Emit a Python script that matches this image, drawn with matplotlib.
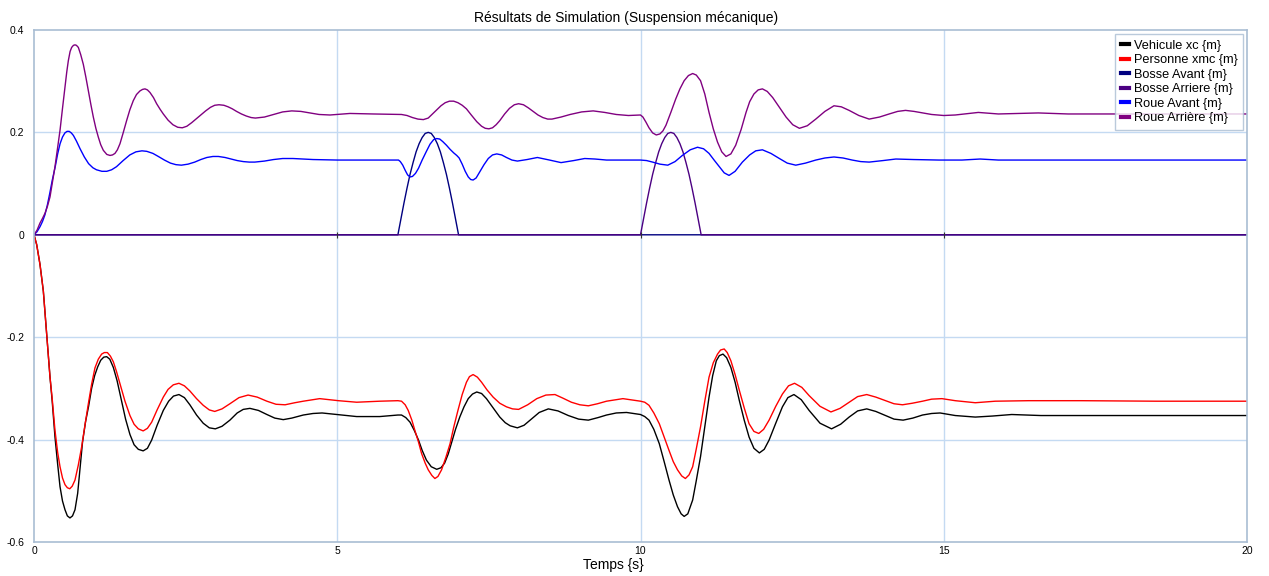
import matplotlib
matplotlib.use("Agg")
import matplotlib.pyplot as plt

plt.rcParams['font.family'] = ['Liberation Sans', 'DejaVu Sans']

# ---------------- data ----------------
t_vehicule = [0.0, 0.044, 0.099, 0.154, 0.209, 0.264, 0.30, 0.346, 0.39, 0.429, 0.47, 0.511, 0.55, 0.593,
              0.635, 0.676, 0.72, 0.76, 0.80, 0.85, 0.90, 0.95, 1.00, 1.05, 1.10, 1.15, 1.198, 1.25,
              1.308, 1.37, 1.445, 1.51, 1.582, 1.65, 1.72, 1.80, 1.87, 1.94, 2.03, 2.132, 2.22, 2.30,
              2.39, 2.48, 2.57, 2.68, 2.79, 2.89, 2.99, 3.10, 3.23, 3.35, 3.45, 3.56, 3.70, 3.84,
              3.97, 4.11, 4.25, 4.44, 4.60, 4.75, 5.0, 5.32, 5.70, 6.0, 6.06, 6.13, 6.20, 6.27, 6.34,
              6.40, 6.47, 6.55, 6.64, 6.71, 6.77, 6.83, 6.88, 6.95, 7.02, 7.09, 7.16, 7.23, 7.30,
              7.38, 7.46, 7.57, 7.68, 7.77, 7.85, 7.97, 8.08, 8.18, 8.33, 8.48, 8.64, 8.81, 8.98,
              9.14, 9.30, 9.44, 9.6, 9.77, 10.0, 10.07, 10.14, 10.22, 10.31, 10.39, 10.47, 10.54,
              10.61, 10.67, 10.72, 10.78, 10.86, 10.92, 10.99, 11.06, 11.13, 11.19, 11.25, 11.30,
              11.36, 11.42, 11.49, 11.56, 11.63, 11.71, 11.79, 11.87, 11.96, 12.04, 12.12, 12.23,
              12.34, 12.43, 12.53, 12.65, 12.78, 12.96, 13.15, 13.30, 13.44, 13.58, 13.73, 13.88,
              14.04, 14.18, 14.33, 14.49, 14.65, 14.80, 14.94, 15.19, 15.52, 15.8, 16.12, 16.6,
              17.0, 18.0, 20.0]
y_vehicule = [0.0, -0.019, -0.058, -0.110, -0.194, -0.278, -0.325, -0.395, -0.448, -0.492, -0.520, -0.537,
              -0.549, -0.553, -0.549, -0.537, -0.505, -0.455, -0.405, -0.365, -0.335, -0.300, -0.275,
              -0.258, -0.245, -0.239, -0.238, -0.243, -0.259, -0.285, -0.325, -0.360, -0.390, -0.410,
              -0.419, -0.422, -0.417, -0.401, -0.372, -0.343, -0.325, -0.315, -0.312, -0.318, -0.332,
              -0.352, -0.368, -0.377, -0.379, -0.374, -0.362, -0.348, -0.341, -0.339, -0.343, -0.351,
              -0.358, -0.361, -0.358, -0.352, -0.349, -0.348, -0.351, -0.355, -0.355, -0.352, -0.352,
              -0.357, -0.366, -0.382, -0.401, -0.421, -0.440, -0.453, -0.458, -0.455, -0.446, -0.428,
              -0.408, -0.380, -0.356, -0.336, -0.320, -0.311, -0.307, -0.310, -0.320, -0.338, -0.356,
              -0.367, -0.373, -0.377, -0.372, -0.362, -0.347, -0.340, -0.344, -0.353, -0.360, -0.362,
              -0.357, -0.352, -0.348, -0.347, -0.351, -0.355, -0.362, -0.380, -0.408, -0.443, -0.479,
              -0.508, -0.531, -0.545, -0.550, -0.545, -0.518, -0.480, -0.433, -0.375, -0.317, -0.275,
              -0.246, -0.236, -0.233, -0.240, -0.259, -0.288, -0.324, -0.362, -0.395, -0.417, -0.426,
              -0.419, -0.401, -0.368, -0.336, -0.318, -0.312, -0.322, -0.343, -0.368, -0.379, -0.370,
              -0.356, -0.344, -0.340, -0.345, -0.353, -0.360, -0.362, -0.358, -0.352, -0.349, -0.348,
              -0.353, -0.356, -0.354, -0.351, -0.353, -0.353, -0.353, -0.353]

t_personne = [0.0, 0.044, 0.099, 0.154, 0.209, 0.264, 0.30, 0.346, 0.39, 0.429, 0.47, 0.511, 0.55, 0.59,
              0.63, 0.676, 0.73, 0.786, 0.84, 0.896, 0.95, 1.005, 1.06, 1.115, 1.16, 1.21, 1.26, 1.308,
              1.36, 1.418, 1.50, 1.582, 1.65, 1.72, 1.80, 1.87, 1.94, 2.03, 2.132, 2.21, 2.297, 2.39,
              2.48, 2.57, 2.68, 2.79, 2.89, 2.98, 3.10, 3.23, 3.38, 3.53, 3.68, 3.84, 3.99, 4.14,
              4.30, 4.44, 4.71, 5.02, 5.32, 5.70, 6.0, 6.06, 6.12, 6.17, 6.23, 6.28, 6.34, 6.39, 6.45,
              6.50, 6.56, 6.61, 6.66, 6.72, 6.79, 6.86, 6.92, 6.99, 7.06, 7.13, 7.18, 7.24, 7.31,
              7.38, 7.47, 7.57, 7.68, 7.79, 7.89, 7.99, 8.14, 8.29, 8.44, 8.59, 8.72, 8.86, 9.00,
              9.14, 9.29, 9.44, 9.71, 10.0, 10.07, 10.14, 10.22, 10.31, 10.39, 10.47, 10.54, 10.61,
              10.68, 10.74, 10.80, 10.86, 10.92, 10.99, 11.06, 11.13, 11.20, 11.27, 11.32, 11.38,
              11.43, 11.49, 11.56, 11.63, 11.71, 11.79, 11.87, 11.95, 12.03, 12.12, 12.23, 12.34,
              12.44, 12.54, 12.66, 12.78, 12.96, 13.14, 13.29, 13.44, 13.58, 13.73, 13.88, 14.04,
              14.18, 14.32, 14.48, 14.65, 14.80, 14.97, 15.19, 15.52, 15.85, 16.40, 17.27, 18.5, 20.0]
y_personne = [0.0, -0.019, -0.058, -0.110, -0.194, -0.278, -0.320, -0.382, -0.425, -0.453, -0.475, -0.488,
              -0.494, -0.496, -0.491, -0.479, -0.450, -0.414, -0.372, -0.330, -0.292, -0.260, -0.243,
              -0.233, -0.230, -0.230, -0.237, -0.248, -0.267, -0.291, -0.325, -0.353, -0.370, -0.379,
              -0.383, -0.378, -0.366, -0.342, -0.317, -0.302, -0.293, -0.290, -0.295, -0.305, -0.320,
              -0.333, -0.342, -0.345, -0.340, -0.330, -0.318, -0.313, -0.317, -0.325, -0.331, -0.332,
              -0.328, -0.325, -0.320, -0.324, -0.327, -0.325, -0.324, -0.325, -0.332, -0.343, -0.362,
              -0.382, -0.405, -0.427, -0.446, -0.459, -0.470, -0.476, -0.472, -0.459, -0.435, -0.408,
              -0.376, -0.343, -0.312, -0.288, -0.277, -0.273, -0.278, -0.288, -0.303, -0.317, -0.329,
              -0.336, -0.340, -0.341, -0.332, -0.320, -0.313, -0.312, -0.319, -0.327, -0.332, -0.334,
              -0.330, -0.325, -0.320, -0.325, -0.327, -0.333, -0.348, -0.369, -0.395, -0.421, -0.443,
              -0.459, -0.471, -0.476, -0.469, -0.453, -0.418, -0.375, -0.325, -0.278, -0.250, -0.233,
              -0.225, -0.223, -0.230, -0.246, -0.273, -0.304, -0.338, -0.369, -0.384, -0.388, -0.380,
              -0.362, -0.335, -0.311, -0.295, -0.290, -0.298, -0.314, -0.335, -0.346, -0.339, -0.327,
              -0.316, -0.312, -0.317, -0.324, -0.330, -0.332, -0.329, -0.325, -0.321, -0.320, -0.324,
              -0.328, -0.325, -0.324, -0.324, -0.325, -0.325]

t_bosse_avant = [0.0, 6.0, 6.05, 6.1, 6.15, 6.2, 6.25, 6.3, 6.35, 6.4, 6.45, 6.5, 6.55, 6.6, 6.65,
                 6.7, 6.75, 6.8, 6.85, 6.9, 6.95, 7.0, 20.0]
y_bosse_avant = [0.0, 0.0, 0.031, 0.062, 0.091, 0.118, 0.141, 0.162, 0.178, 0.190, 0.198, 0.200, 0.198,
                 0.190, 0.178, 0.162, 0.141, 0.118, 0.091, 0.062, 0.031, 0.0, 0.0]

t_bosse_arriere = [0.0, 10.0, 10.05, 10.1, 10.15, 10.2, 10.25, 10.3, 10.35, 10.4, 10.45, 10.5, 10.55,
                   10.6, 10.65, 10.7, 10.75, 10.8, 10.85, 10.9, 10.95, 11.0, 20.0]
y_bosse_arriere = [0.0, 0.0, 0.031, 0.062, 0.091, 0.118, 0.141, 0.162, 0.178, 0.190, 0.198, 0.200, 0.198,
                   0.190, 0.178, 0.162, 0.141, 0.118, 0.091, 0.062, 0.031, 0.0, 0.0]

t_roue_avant = [0.0, 0.05, 0.10, 0.14, 0.18, 0.22, 0.26, 0.30, 0.35, 0.39, 0.43, 0.47, 0.51, 0.545, 0.58,
                0.615, 0.65, 0.70, 0.76, 0.83, 0.90, 0.97, 1.03, 1.12, 1.20, 1.28, 1.36, 1.47, 1.58,
                1.68, 1.78, 1.86, 1.96, 2.05, 2.15, 2.25, 2.34, 2.43, 2.54, 2.65, 2.75, 2.85, 2.95,
                3.04, 3.15, 3.25, 3.35, 3.45, 3.55, 3.64, 3.80, 3.95, 4.10, 4.27, 4.45, 4.6, 5.0, 5.5,
                6.01, 6.04, 6.08, 6.12, 6.16, 6.20, 6.24, 6.29, 6.34, 6.40, 6.47, 6.53, 6.59, 6.64,
                6.69, 6.74, 6.80, 6.86, 6.92, 6.97, 7.01, 7.06, 7.11, 7.16, 7.20, 7.24, 7.29, 7.35,
                7.42, 7.49, 7.56, 7.63, 7.71, 7.79, 7.88, 7.97, 8.13, 8.30, 8.50, 8.69, 8.90, 9.08,
                9.25, 9.44, 10.0, 10.1, 10.2, 10.32, 10.45, 10.57, 10.69, 10.82, 10.94, 11.04, 11.13,
                11.22, 11.30, 11.38, 11.46, 11.56, 11.68, 11.80, 11.90, 12.01, 12.15, 12.29, 12.42,
                12.56, 12.72, 12.89, 13.04, 13.19, 13.34, 13.49, 13.63, 13.77, 14.0, 14.21, 14.5,
                14.92, 15.3, 15.6, 15.9, 17.0, 20.0]
y_roue_avant = [0.0, 0.006, 0.016, 0.026, 0.039, 0.058, 0.081, 0.106, 0.133, 0.158, 0.178, 0.191, 0.199,
                0.202, 0.202, 0.199, 0.194, 0.183, 0.168, 0.152, 0.139, 0.131, 0.127, 0.124, 0.124,
                0.127, 0.133, 0.145, 0.156, 0.162, 0.164, 0.163, 0.159, 0.153, 0.146, 0.140, 0.137,
                0.136, 0.138, 0.142, 0.147, 0.151, 0.153, 0.153, 0.151, 0.148, 0.145, 0.143, 0.142,
                0.142, 0.144, 0.147, 0.149, 0.149, 0.148, 0.147, 0.146, 0.146, 0.146, 0.143, 0.136,
                0.126, 0.117, 0.113, 0.114, 0.120, 0.130, 0.146, 0.163, 0.177, 0.186, 0.188, 0.187,
                0.182, 0.175, 0.167, 0.160, 0.155, 0.150, 0.138, 0.124, 0.113, 0.108, 0.107, 0.111,
                0.123, 0.137, 0.149, 0.156, 0.158, 0.156, 0.151, 0.146, 0.144, 0.147, 0.151, 0.146,
                0.141, 0.145, 0.149, 0.148, 0.146, 0.146, 0.145, 0.142, 0.138, 0.136, 0.143, 0.155,
                0.166, 0.171, 0.168, 0.159, 0.145, 0.133, 0.121, 0.116, 0.124, 0.142, 0.156, 0.164,
                0.166, 0.159, 0.149, 0.140, 0.136, 0.140, 0.146, 0.150, 0.152, 0.150, 0.146, 0.143,
                0.142, 0.145, 0.148, 0.147, 0.146, 0.146, 0.148, 0.146, 0.146, 0.146]

t_roue_arriere = [0.0, 0.05, 0.099, 0.14, 0.181, 0.22, 0.264, 0.30, 0.346, 0.39, 0.429, 0.47, 0.511, 0.54,
                  0.566, 0.595, 0.621, 0.65, 0.676, 0.70, 0.731, 0.77, 0.813, 0.855, 0.896, 0.94, 0.978,
                  1.02, 1.060, 1.10, 1.143, 1.20, 1.253, 1.295, 1.335, 1.375, 1.418, 1.47, 1.527, 1.58,
                  1.637, 1.69, 1.747, 1.79, 1.830, 1.87, 1.912, 1.97, 2.022, 2.08, 2.132, 2.21, 2.29,
                  2.37, 2.445, 2.52, 2.60, 2.68, 2.75, 2.83, 2.91, 2.98, 3.05, 3.13, 3.20, 3.27, 3.34,
                  3.42, 3.50, 3.58, 3.65, 3.80, 3.95, 4.10, 4.25, 4.40, 4.55, 4.70, 4.88, 5.21, 5.59,
                  6.06, 6.15, 6.24, 6.33, 6.42, 6.50, 6.57, 6.64, 6.71, 6.78, 6.85, 6.92, 6.99, 7.06,
                  7.13, 7.21, 7.30, 7.38, 7.44, 7.50, 7.56, 7.62, 7.68, 7.76, 7.84, 7.92, 7.99, 8.07,
                  8.15, 8.23, 8.31, 8.39, 8.47, 8.54, 8.69, 8.84, 9.03, 9.22, 9.41, 9.60, 9.80, 10.0,
                  10.04, 10.09, 10.14, 10.20, 10.26, 10.32, 10.37, 10.42, 10.50, 10.58, 10.65, 10.72,
                  10.79, 10.86, 10.92, 10.99, 11.06, 11.13, 11.20, 11.27, 11.34, 11.41, 11.49, 11.57,
                  11.66, 11.74, 11.80, 11.87, 11.94, 12.01, 12.09, 12.18, 12.29, 12.40, 12.51, 12.62,
                  12.75, 12.89, 13.04, 13.19, 13.31, 13.44, 13.60, 13.77, 13.94, 14.10, 14.24, 14.37,
                  14.51, 14.65, 14.80, 15.0, 15.19, 15.57, 15.90, 16.56, 17.05, 17.82, 20.0]
y_roue_arriere = [0.0, 0.009, 0.023, 0.032, 0.042, 0.055, 0.074, 0.100, 0.133, 0.170, 0.204, 0.247,
                  0.288, 0.318, 0.340, 0.358, 0.366, 0.370, 0.371, 0.370, 0.366, 0.352, 0.333, 0.308,
                  0.281, 0.253, 0.230, 0.208, 0.191, 0.176, 0.165, 0.157, 0.155, 0.156, 0.159, 0.166,
                  0.178, 0.199, 0.223, 0.244, 0.262, 0.274, 0.281, 0.284, 0.285, 0.283, 0.278, 0.268,
                  0.256, 0.245, 0.236, 0.224, 0.215, 0.210, 0.209, 0.212, 0.219, 0.227, 0.234, 0.242,
                  0.249, 0.253, 0.254, 0.253, 0.250, 0.246, 0.241, 0.236, 0.232, 0.229, 0.228, 0.230,
                  0.235, 0.240, 0.242, 0.241, 0.238, 0.235, 0.234, 0.237, 0.236, 0.235, 0.233, 0.229,
                  0.226, 0.225, 0.228, 0.236, 0.244, 0.252, 0.258, 0.261, 0.261, 0.258, 0.253, 0.246,
                  0.234, 0.221, 0.212, 0.208, 0.207, 0.209, 0.215, 0.223, 0.236, 0.247, 0.254, 0.256,
                  0.254, 0.248, 0.241, 0.234, 0.229, 0.226, 0.226, 0.230, 0.235, 0.240, 0.242, 0.239,
                  0.235, 0.233, 0.234, 0.230, 0.220, 0.209, 0.199, 0.195, 0.197, 0.203, 0.214, 0.239,
                  0.265, 0.285, 0.301, 0.311, 0.315, 0.312, 0.301, 0.275, 0.239, 0.207, 0.181, 0.162,
                  0.153, 0.158, 0.175, 0.206, 0.239, 0.260, 0.275, 0.283, 0.285, 0.280, 0.268, 0.249,
                  0.230, 0.215, 0.208, 0.213, 0.226, 0.241, 0.252, 0.250, 0.243, 0.233, 0.226, 0.230,
                  0.236, 0.241, 0.243, 0.241, 0.238, 0.235, 0.233, 0.234, 0.239, 0.236, 0.238, 0.236,
                  0.236, 0.236]

labels = ["Vehicule xc {m}", "Personne xmc {m}", "Bosse Avant {m}", "Bosse Arriere {m}",
          "Roue Avant {m}", "Roue Arrière {m}"]
colors = ["#000000", "#ff0000", "#000080", "#4b0082", "#0000ff", "#800080"]

x_ticks = [0, 5, 10, 15, 20]
y_ticks = [-0.6, -0.4, -0.2, 0, 0.2, 0.4]
y_tick_labels = ["-0.6", "-0.4", "-0.2", "0", "0.2", "0.4"]

title = "Résultats de Simulation (Suspension mécanique)"
xlabel = "Temps {s}"

# ---------------- figure ----------------
W, H = 1269, 576
fig = plt.figure(figsize=(W / 100, H / 100), dpi=100)
ax = fig.add_axes([34 / W, 1 - 542 / H, (1247 - 34) / W, (542 - 30) / H])

grid_color = "#c4daf2"
spine_color = "#a9bdd3"
for x in x_ticks[1:-1]:
    ax.axvline(x, color=grid_color, lw=1.0, zorder=0)
for y in [-0.4, -0.2, 0.2]:
    ax.axhline(y, color=grid_color, lw=1.0, zorder=0)

series = [(t_vehicule, y_vehicule), (t_personne, y_personne), (t_bosse_avant, y_bosse_avant),
          (t_bosse_arriere, y_bosse_arriere), (t_roue_avant, y_roue_avant),
          (t_roue_arriere, y_roue_arriere)]
handles = []
for (tt, yy), lab, col in zip(series, labels, colors):
    h, = ax.plot(tt, yy, color=col, lw=1.0, label=lab, solid_joinstyle="round", antialiased=True)
    handles.append(h)

# small tick marks on the zero line
ax.plot(x_ticks[1:-1], [0] * 3, ls="none", marker="|", ms=4, mew=0.8, color="#333333", zorder=5)

ax.set_xlim(0, 20)
ax.set_ylim(-0.6, 0.4)
ax.set_xticks(x_ticks)
ax.set_xticklabels([str(v) for v in x_ticks])
ax.set_yticks(y_ticks)
ax.set_yticklabels(y_tick_labels)
ax.tick_params(axis="both", length=0, labelsize=7.5, colors="#000000")
ax.tick_params(axis="x", pad=3)
ax.tick_params(axis="y", pad=7)
for sp in ax.spines.values():
    sp.set_color(spine_color)
    sp.set_linewidth(1.2)

fig.text(626 / W, 1 - 18 / H, title, fontsize=10, ha="center", va="center")
fig.text(613 / W, 1 - 565 / H, xlabel, fontsize=10, ha="center", va="center")

leg = ax.legend(handles=handles, loc="upper right", frameon=True, fancybox=False,
                prop={"family": "Liberation Sans", "size": 9.2},
                handlelength=0.65, handletextpad=0.35, borderpad=0.45, labelspacing=0.2,
                borderaxespad=0.3)
leg.get_frame().set_edgecolor(spine_color)
leg.get_frame().set_linewidth(1.0)
for lh in leg.get_lines():
    lh.set_linewidth(3.0)

fig.savefig("out.png", dpi=100)
